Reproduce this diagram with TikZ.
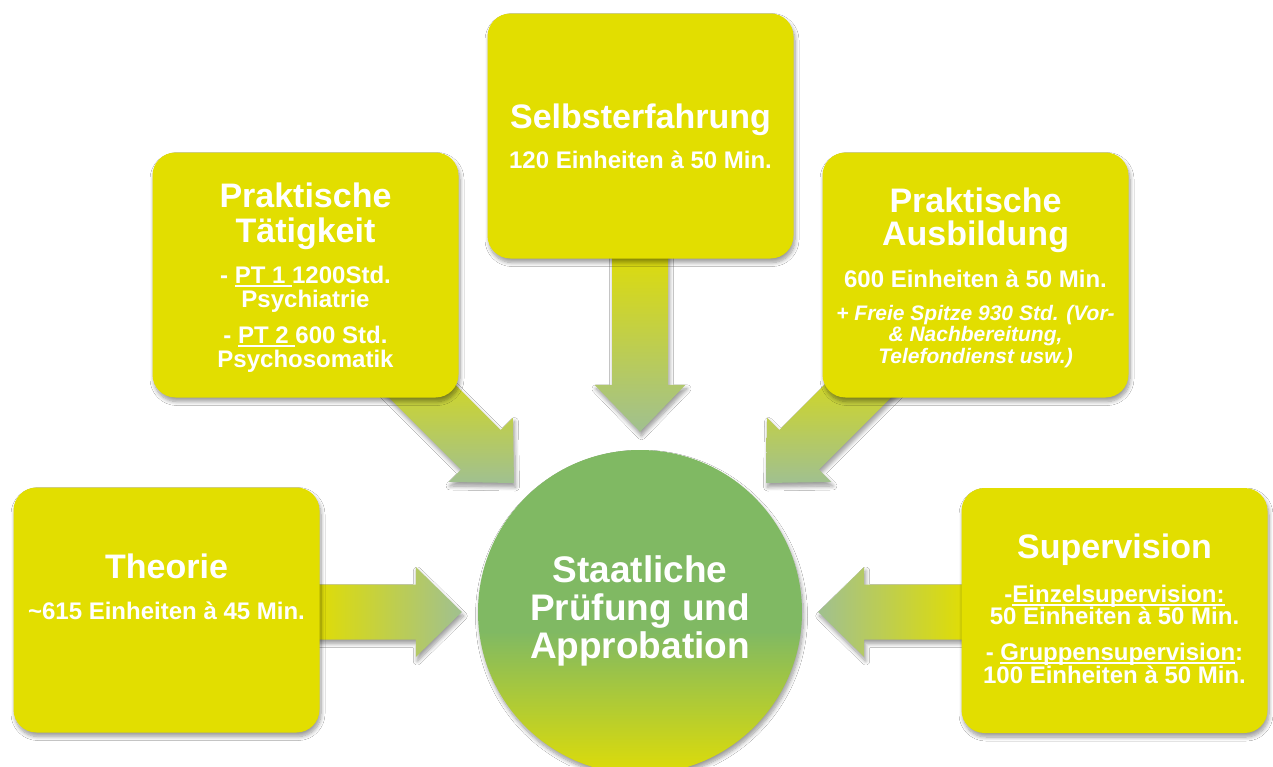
\documentclass[tikz,border=0pt]{standalone}
\usepackage{fontspec}
\setmainfont{Liberation Sans}
\usetikzlibrary{calc,shadows.blur}
\definecolor{boxyel}{RGB}{226,222,0}
\definecolor{arrgrn}{RGB}{160,192,144}
\definecolor{arryel}{RGB}{226,222,0}
\definecolor{circgrn}{RGB}{128,185,99}
\definecolor{circyel}{RGB}{222,220,8}
\pgfdeclareverticalshading{circsh}{100bp}{color(0bp)=(circyel); color(25bp)=(circyel); color(47bp)=(circgrn); color(100bp)=(circgrn)}
\newsavebox\ulbox
\newcommand\ulx[1]{\sbox\ulbox{#1}\rlap{\rule[-4pt]{\wd\ulbox}{1.7pt}}\usebox\ulbox}
\begin{document}
\begin{tikzpicture}[x=1pt,y=-1pt,
  shadowed/.style={blur shadow={shadow xshift=1.5pt, shadow yshift=-4pt, shadow blur radius=4pt, shadow blur steps=8}},
  box/.style={fill=boxyel, rounded corners=23pt, minimum width=306pt, minimum height=245pt, inner sep=0pt, shadowed},
  title/.style={anchor=base, inner sep=0pt, text=white, font=\bfseries\fontsize{34}{34}\selectfont},
  body/.style={anchor=base, inner sep=0pt, text=white, font=\bfseries\fontsize{24}{24}\selectfont},
  note/.style={anchor=base, inner sep=0pt, text=white, font=\bfseries\itshape\fontsize{21}{21}\selectfont},
  big/.style={anchor=base, inner sep=0pt, text=white, font=\bfseries\fontsize{37}{37}\selectfont},
  vshade/.style={top color=arryel, bottom color=arrgrn, shadowed},
]
\useasboundingbox (0,0) rectangle (1273,766);
\fill[white] (0,0) rectangle (1273,766);
\begin{scope}
\clip (0,0) rectangle (1273,766);
% central circle
\node[circle, minimum size=324pt, inner sep=0pt, shade, shading=circsh, shadowed] (exam) at (640,612) {};
\end{scope}
% arrow tips
\coordinate (tipS) at ($(exam.north)+(0,-18)$);
\coordinate (tipT) at ($(exam.west)+(-16,0)$);
\coordinate (tipV) at ($(exam.east)+(16,0)$);
\coordinate (tipPT) at ($(exam.center)+(-126,-129)$);
\coordinate (tipPA) at ($(exam.center)+(126,-129)$);
% down arrow
\begin{scope}[shift={(tipS)}]
\shade[vshade] (0,0) -- (-45.5,-47) -- (-28,-47) -- (-28,-192) -- (28,-192) -- (28,-47) -- (45.5,-47) -- cycle;
\end{scope}
% Theorie arrow
\begin{scope}[shift={(tipT)}]
\shade[left color=arryel, right color=arrgrn, shadowed] (0,0) -- (-46,-45) -- (-46,-27.5) -- (-150,-27.5) -- (-150,27.5) -- (-46,27.5) -- (-46,45) -- cycle;
\end{scope}
% Supervision arrow
\begin{scope}[shift={(tipV)}]
\shade[left color=arrgrn, right color=arryel, shadowed] (0,0) -- (46,-45) -- (46,-27.5) -- (150,-27.5) -- (150,27.5) -- (46,27.5) -- (46,45) -- cycle;
\end{scope}
% diagonal arrows
\begin{scope}[shift={(tipPT)}]
\shade[vshade] (0,0) -- (-1.06,-65.4) -- (-13.43,-53.03) -- (-100.4,-140) -- (-140,-100.4) -- (-53.03,-13.43) -- (-65.4,-1.06) -- cycle;
\end{scope}
\begin{scope}[shift={(tipPA)}]
\shade[vshade] (0,0) -- (1.06,-65.4) -- (13.43,-53.03) -- (100.4,-140) -- (140,-100.4) -- (53.03,-13.43) -- (65.4,-1.06) -- cycle;
\end{scope}
% boxes
\node[box] (bS) at (640.5,136) {};
\node[box] (bPT) at (305.5,275) {};
\node[box] (bPA) at (975.5,275) {};
\node[box] (bT) at (166.5,610) {};
\node[box] (bV) at (1114.5,610.5) {};
% Selbsterfahrung
\node[title] (s1) at (640.5,128) {Selbsterfahrung};
\node[body] (s2) at (640.5,168) {120 Einheiten à 50 Min.};
% Praktische Taetigkeit
\node[title] (p1) at (305.5,207) {Praktische};
\node[title] (p2) at (305.5,242) {Tätigkeit};
\node[body] (p3) at (305.5,283) {- \ulx{PT 1 }1200Std.};
\node[body] (p4) at (305.5,307) {Psychiatrie};
\node[body] (p5) at (305.5,343) {- \ulx{PT 2 }600 Std.};
\node[body] (p6) at (305.5,367) {Psychosomatik};
% Praktische Ausbildung
\node[title] (a1) at (975.5,212) {Praktische};
\node[title] (a2) at (975.5,245) {Ausbildung};
\node[body] (a3) at (975.5,287) {600 Einheiten à 50 Min.};
\node[note] (a4) at (975.5,320) {+ Freie Spitze 930 Std. (Vor-};
\node[note] (a5) at (975.5,341) {\& Nachbereitung,};
\node[note] (a6) at (975.5,363) {Telefondienst usw.)};
% Theorie
\node[title] (t1) at (166.5,578) {Theorie};
\node[body] (t2) at (166.5,619) {\textasciitilde615 Einheiten à 45 Min.};
% Supervision
\node[title] (v1) at (1114.5,558) {Supervision};
\node[body] (v2) at (1114.5,602) {-\ulx{Einzelsupervision:}};
\node[body] (v3) at (1114.5,624) {50 Einheiten à 50 Min.};
\node[body] (v4) at (1114.5,660) {- \ulx{Gruppensupervision}:};
\node[body] (v5) at (1114.5,683) {100 Einheiten à 50 Min.};
% circle text
\node[big] (c1) at (640,582) {Staatliche};
\node[big] (c2) at (640,620) {Prüfung und};
\node[big] (c3) at (640,658) {Approbation};
\end{tikzpicture}
\end{document}
